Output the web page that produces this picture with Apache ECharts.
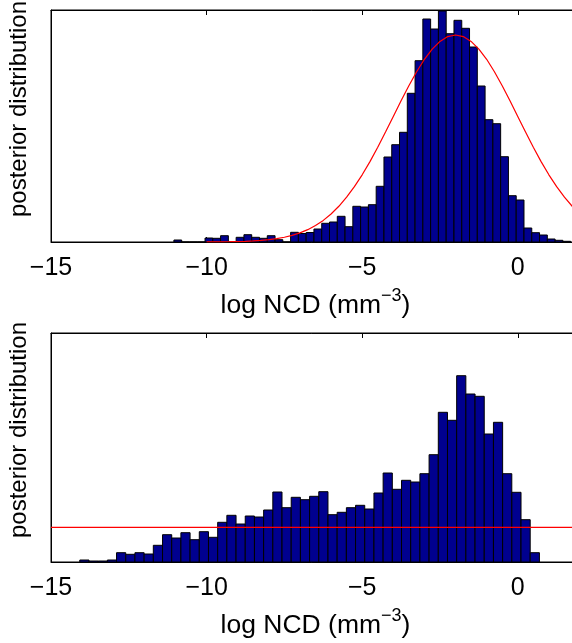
<!DOCTYPE html>
<html>
<head>
<meta charset="utf-8">
<script src="https://cdn.jsdelivr.net/npm/echarts@6/dist/echarts.min.js"></script>
<style>
  html, body { margin: 0; padding: 0; background: #fff; }
  #main { width: 572px; height: 643px; }
</style>
</head>
<body>
<div id="main"></div>
<script>
// top panel: histogram of posterior samples (bin centres, bar heights)
var topCenters = [-10.925, -10.675, -10.425, -10.175, -9.925, -9.675, -9.425, -9.175, -8.925, -8.675,
    -8.425, -8.175, -7.925, -7.675, -7.425, -7.175, -6.925, -6.675, -6.425, -6.175,
    -5.925, -5.675, -5.425, -5.175, -4.925, -4.675, -4.425, -4.175, -3.925, -3.675,
    -3.425, -3.175, -2.925, -2.675, -2.425, -2.175, -1.925, -1.675, -1.425, -1.175,
    -0.925, -0.675, -0.425, -0.175, 0.075, 0.325, 0.575, 0.825, 1.075, 1.325, 1.575];
var topCounts = [2, 0, 0, 0, 4, 3.7, 6.3, 0, 4.7, 7.3,
    4.7, 3.7, 6.3, 2.3, 0, 9.7, 8.5, 9.5, 13, 18.7,
    20, 25.7, 15.3, 35.7, 35, 37.3, 55.7, 85, 97.3, 109.7,
    148.7, 181.3, 223, 213, 231, 208.3, 221.7, 213.7, 195, 156,
    122.3, 118.3, 85.3, 46.3, 42, 14, 9.3, 7, 3, 1.7, 0.7];
var topBinWidth = 0.25;

// top panel: red prior curve
var curveX = [-10, -9.75, -9.5, -9.25, -9, -8.75, -8.5, -8.25, -8, -7.75, -7.5, -7.25, -7, -6.75,
    -6.5, -6.25, -6, -5.75, -5.5, -5.25, -5, -4.75, -4.5, -4.25, -4, -3.75, -3.5, -3.25,
    -3, -2.75, -2.5, -2.25, -2, -1.75, -1.5, -1.25, -1, -0.75, -0.5, -0.25, 0, 0.25,
    0.5, 0.75, 1, 1.25, 1.5, 1.75, 2];
var curveY = [0.07, 0.11, 0.18, 0.29, 0.45, 0.7, 1.05, 1.57, 2.3, 3.32, 4.72, 6.61, 9.09, 12.34,
    16.5, 21.6, 28, 35.7, 44.8, 55.3, 67.2, 80.4, 94.8, 110, 125.6, 141.2, 156.3, 170.3,
    182.7, 192.9, 200.6, 205.4, 207, 205.4, 200.6, 192.9, 182.7, 170.3, 156.3, 141.2, 125.6, 110,
    94.8, 80.4, 67.2, 55.3, 44.8, 35.7, 28];

// bottom panel histogram
var botCenters = [-13.927, -13.632, -13.336, -13.041, -12.746, -12.450, -12.155, -11.859, -11.564, -11.268,
    -10.973, -10.678, -10.382, -10.087, -9.791, -9.496, -9.201, -8.905, -8.610, -8.314,
    -8.019, -7.724, -7.428, -7.133, -6.837, -6.542, -6.247, -5.951, -5.656, -5.360,
    -5.065, -4.770, -4.474, -4.179, -3.883, -3.588, -3.293, -2.997, -2.702, -2.406,
    -2.111, -1.816, -1.520, -1.225, -0.929, -0.634, -0.339, -0.043, 0.252, 0.548];
var botCounts = [2, 1, 1, 2, 9.3, 7.7, 9.3, 8, 16.7, 27.3,
    24, 29.3, 22.3, 30.3, 24.7, 39.7, 46.7, 38, 46, 45,
    52, 70, 54.3, 64.7, 62.3, 65.7, 70.3, 47.3, 49.7, 54.3,
    56.7, 53, 69, 89, 72.7, 81.7, 80, 88.3, 107.3, 149.7,
    141.7, 186.3, 168, 165.7, 128, 139.7, 88.3, 69.7, 42.3, 9.3];
var botBinWidth = 0.2954;

// bottom panel: flat prior
var priorX = [-15, 2];
var priorY = [34.7, 34.7];

var xTicks = ['−15', '−10', '−5', '0'];
var xMin = -15, xMax = 2;

var FONT = '"Liberation Sans", Arial, Helvetica, sans-serif';

var chart = echarts.init(document.getElementById('main'));

function zipBars(c, h, w) {
    var out = [];
    for (var i = 0; i < c.length; i++) out.push([c[i], h[i], w]);
    return out;
}
function zip(a, b) {
    var out = [];
    for (var i = 0; i < a.length; i++) out.push([a[i], b[i]]);
    return out;
}

function renderBar(params, api) {
    var x = api.value(0), h = api.value(1), w = api.value(2);
    var p0 = api.coord([x - w / 2, h]);
    var p1 = api.coord([x + w / 2, 0]);
    return {
        type: 'rect',
        shape: { x: p0[0], y: p0[1], width: p1[0] - p0[0], height: p1[1] - p0[1] },
        style: { fill: '#00008F', stroke: '#000', lineWidth: 1 }
    };
}

function tickLabel(v) {
    var i = (v - xMin) / 5;
    return (i === Math.round(i) && xTicks[i]) ? xTicks[i] : '';
}

function bottomAxis(idx) {
    return {
        type: 'value', gridIndex: idx, position: 'bottom', min: xMin, max: xMax, interval: 5,
        axisLine: { show: true, onZero: false, lineStyle: { color: '#000', width: 1 } },
        axisTick: { show: true, inside: true, length: 5, lineStyle: { color: '#000' } },
        splitLine: { show: false },
        axisLabel: {
            margin: 14, color: '#000', fontSize: 25, fontFamily: FONT,
            showMaxLabel: false,
            formatter: tickLabel
        },
        name: '{a|log NCD (mm}{s|−3}{a|)}',
        nameLocation: 'middle',
        nameGap: 45,
        nameTextStyle: {
            color: '#000',
            rich: {
                a: { fontSize: 26.5, fontFamily: FONT, color: '#000', lineHeight: 32, verticalAlign: 'bottom' },
                s: { fontSize: 18, fontFamily: FONT, color: '#000', lineHeight: 18, verticalAlign: 'top' }
            }
        }
    };
}
function topAxis(idx) {
    return {
        type: 'value', gridIndex: idx, position: 'top', min: xMin, max: xMax, interval: 5,
        axisLine: { show: true, onZero: false, lineStyle: { color: '#000', width: 1 } },
        axisTick: { show: true, inside: true, length: 5, lineStyle: { color: '#000' } },
        axisLabel: { show: false },
        splitLine: { show: false }
    };
}
function yAxis(idx, max) {
    return {
        type: 'value', gridIndex: idx, min: 0, max: max,
        axisLine: { show: true, onZero: false, lineStyle: { color: '#000', width: 1 } },
        axisTick: { show: false },
        axisLabel: { show: false },
        splitLine: { show: false }
    };
}

var option = {
    animation: false,
    backgroundColor: '#fff',
    grid: [
        { left: 51, top: 10, width: 529, height: 232, show: true, borderColor: '#000', borderWidth: 1,
          containLabel: false, outerBoundsMode: 'none' },
        { left: 51, top: 333, width: 529, height: 229, show: true, borderColor: '#000', borderWidth: 1,
          containLabel: false, outerBoundsMode: 'none' }
    ],
    xAxis: [bottomAxis(0), topAxis(0), bottomAxis(1), topAxis(1)],
    yAxis: [yAxis(0, 232), yAxis(1, 229)],
    graphic: [
        {
            type: 'text', x: 19, y: 109, rotation: Math.PI / 2,
            style: { text: 'posterior distribution', fontSize: 24, fontFamily: FONT, fill: '#000', align: 'center', verticalAlign: 'middle' }
        },
        {
            type: 'text', x: 19, y: 430, rotation: Math.PI / 2,
            style: { text: 'posterior distribution', fontSize: 24, fontFamily: FONT, fill: '#000', align: 'center', verticalAlign: 'middle' }
        }
    ],
    series: [
        {
            type: 'custom', xAxisIndex: 0, yAxisIndex: 0,
            renderItem: renderBar,
            data: zipBars(topCenters, topCounts, topBinWidth)
        },
        {
            type: 'line', xAxisIndex: 0, yAxisIndex: 0, showSymbol: false, z: 5,
            lineStyle: { color: '#FF0000', width: 1.2 },
            data: zip(curveX, curveY)
        },
        {
            type: 'custom', xAxisIndex: 2, yAxisIndex: 1,
            renderItem: renderBar,
            data: zipBars(botCenters, botCounts, botBinWidth)
        },
        {
            type: 'line', xAxisIndex: 2, yAxisIndex: 1, showSymbol: false, z: 5,
            lineStyle: { color: '#FF0000', width: 1.2 },
            data: zip(priorX, priorY)
        }
    ]
};

chart.setOption(option);
</script>
</body>
</html>
